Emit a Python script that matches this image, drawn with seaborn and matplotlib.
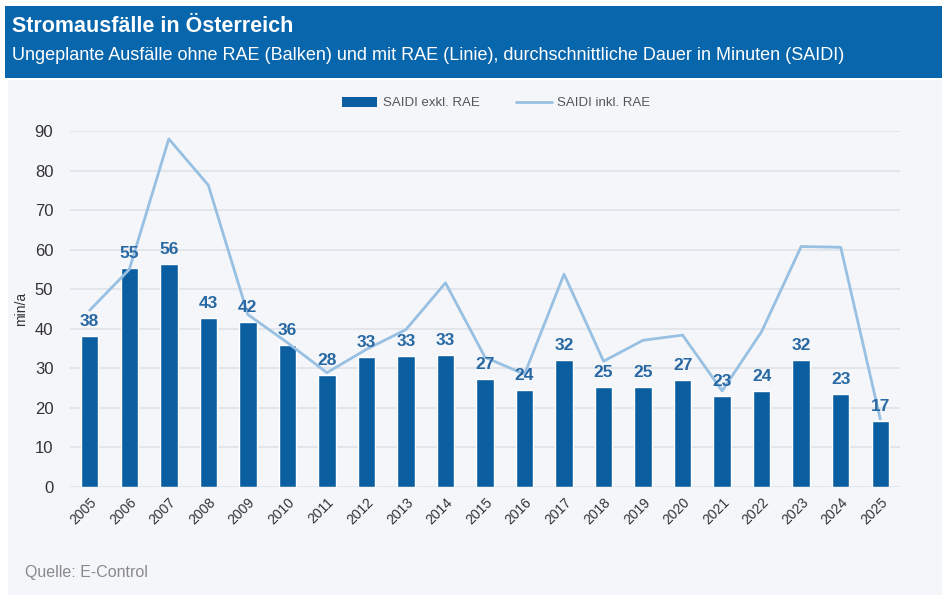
import numpy as np
import pandas as pd
import matplotlib
matplotlib.use("Agg")
import matplotlib.pyplot as plt
import seaborn as sns
from matplotlib.patches import Rectangle
from matplotlib.lines import Line2D

years = [str(y) for y in range(2005, 2026)]
saidi_excl = [38.3, 55.4, 56.4, 42.8, 41.7, 35.9, 28.3, 32.9, 33.1, 33.4, 27.4,
              24.5, 32.2, 25.4, 25.4, 27.0, 23.0, 24.2, 32.2, 23.4, 16.6]
saidi_incl = [44.7, 55.0, 88.0, 76.3, 43.6, 36.5, 28.9, 34.8, 39.8, 51.6, 32.8,
              28.5, 53.8, 31.8, 37.1, 38.4, 24.3, 39.3, 60.8, 60.6, 17.2]
yticks = list(range(0, 91, 10))

title = "Stromausfälle in Österreich"
subtitle = "Ungeplante Ausfälle ohne RAE (Balken) und mit RAE (Linie), durchschnittliche Dauer in Minuten (SAIDI)"
source = "Quelle: E-Control"
label_bar = "SAIDI exkl. RAE"
label_line = "SAIDI inkl. RAE"

BAR = "#0b5fa0"
LINE = "#98c0e2"
HEAD = "#0866ad"
PANEL = "#f4f6f9"
LBL = "#2868a3"

sns.set_theme(style="white")
NARROW = ["Liberation Sans Narrow", "Liberation Sans", "DejaVu Sans"]
plt.rcParams["font.family"] = ["Liberation Sans", "DejaVu Sans"]

df = pd.DataFrame({"year": years, "excl": saidi_excl, "incl": saidi_incl})
df["pos"] = np.arange(len(df))

fig = plt.figure(figsize=(9.5, 6.05), dpi=100)
fig.patch.set_facecolor("white")
# panel background
fig.add_artist(Rectangle((8/950, 1-595/605), (942-8)/950, (595-80)/605,
                         transform=fig.transFigure, facecolor=PANEL, edgecolor="none", zorder=-2))
# header band
fig.add_artist(Rectangle((5/950, 1-78/605), (942-5)/950, (78-6)/605,
                         transform=fig.transFigure, facecolor=HEAD, edgecolor="none", zorder=-1))
fig.text(12/950, 1-27/605, title, color="white", fontsize=15.5, fontweight="bold",
         family=NARROW, va="center", ha="left")
fig.text(12/950, 1-56/605, subtitle, color="white", fontsize=13,
         family=NARROW, va="center", ha="left")

ax = fig.add_axes([70/950, 1-487/605, (900-70)/950, (487-131)/605])
ax.set_facecolor("none")
sns.barplot(data=df, x="year", y="excl", color=BAR, width=0.44, saturation=1,
            ax=ax, zorder=2)
sns.lineplot(data=df, x="pos", y="incl", color=LINE, linewidth=2, ax=ax,
             zorder=3, legend=False)
ax.set_xlim(-0.5, len(years) - 0.5)
ax.set_ylim(0, 90)
ax.set_yticks(yticks)
ax.set_xticks(df["pos"])
ax.set_xticklabels(years, rotation=45, ha="right", rotation_mode="anchor",
                   fontsize=10, color="#333333", family=NARROW)
ax.tick_params(axis="y", labelsize=12, colors="#333333", length=0, pad=12)
ax.tick_params(axis="x", length=0, pad=6)
ax.grid(axis="y", color="#dfe2e6", linewidth=1.2)
ax.set_axisbelow(True)
for s in ax.spines.values():
    s.set_visible(False)
ax.set_xlabel("")
ax.set_ylabel("min/a", fontsize=10, color="#333333", labelpad=5)

for p, v in zip(df["pos"], df["excl"]):
    ax.annotate(f"{v:.0f}", (p, v), xytext=(0, 5), textcoords="offset points",
                ha="center", va="bottom", fontsize=12.5, fontweight="bold",
                color=LBL, family=NARROW)

handles = [Rectangle((0, 0), 1, 1, facecolor=BAR, edgecolor="none"),
           Line2D([0], [0], color=LINE, linewidth=2)]
leg = fig.legend(handles, [label_bar, label_line], loc="center",
                 bbox_to_anchor=(496/950, 1-103/605), ncol=2, frameon=False,
                 prop={"family": NARROW, "size": 9.5}, handlelength=2.7,
                 handleheight=0.8, columnspacing=2.8, handletextpad=0.4)
for t in leg.get_texts():
    t.set_color("#555555")

fig.text(25/950, 1-572/605, source, color="#8a8a8a", fontsize=11.5,
         family=NARROW, va="center", ha="left")

fig.savefig("out.png", dpi=100, facecolor=fig.get_facecolor())
